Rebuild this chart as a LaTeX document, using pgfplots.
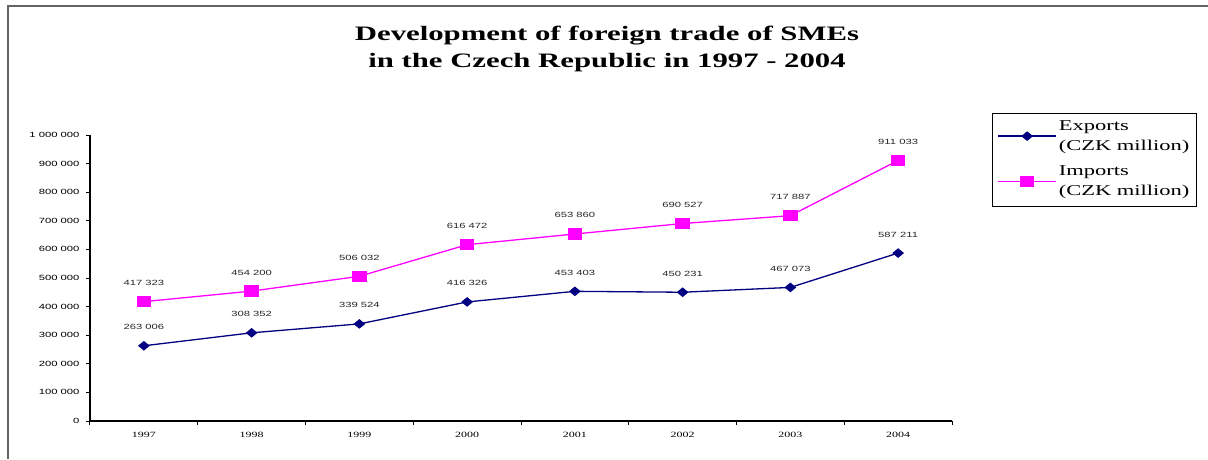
\documentclass[border=0pt]{standalone}
\usepackage{pgfplots}
\pgfplotsset{compat=1.18}
\usepackage{fontspec}
\newfontfamily\serifS[FakeStretch=1.5]{Liberation Serif}
\newfontfamily\sansS[FakeStretch=1.5]{Liberation Sans}
\definecolor{expblue}{RGB}{0,0,128}
\definecolor{impmag}{RGB}{255,0,255}
\definecolor{framegray}{RGB}{100,100,100}

\begin{document}
\begin{tikzpicture}
\useasboundingbox (-90pt,-38pt) rectangle (1118pt,421pt);
\draw[framegray, line width=2.4pt] (-82pt,-38pt) -- (-82pt,415pt) -- (1118pt,415pt);
\node[font=\serifS\bfseries\fontsize{20.5}{27}\selectfont, anchor=base] at (517pt,381pt) {Development of foreign trade of SMEs};
\node[font=\serifS\bfseries\fontsize{20.5}{27}\selectfont, anchor=base] at (517pt,354pt) {in the Czech Republic in 1997 - 2004};

\begin{axis}[
  anchor=south west, at={(0pt,0pt)},
  scale only axis, width=862pt, height=286pt,
  xmin=-0.5, xmax=7.5, ymin=0, ymax=1000000,
  axis x line*=bottom, axis y line*=left,
  axis line style={line width=1.2pt, -},
  xtick={0,...,7},
  xticklabels={1997,1998,1999,2000,2001,2002,2003,2004},
  major x tick style={draw=none},
  minor xtick={-0.5,0.5,...,7.5},
  ytick={0,100000,...,1000000},
  yticklabels={0,100 000,200 000,300 000,400 000,500 000,600 000,700 000,800 000,900 000,1 000 000},
  scaled y ticks=false,
  tick align=outside, major tick length=4pt, minor tick length=4pt,
  tick style={black, line width=1pt},
  xticklabel style={font=\serifS\fontsize{8}{10}\selectfont, yshift=-4pt},
  yticklabel style={font=\sansS\fontsize{7.5}{9}\selectfont, xshift=-3pt},
  clip=false,
  every node near coord/.append style={font=\sansS\fontsize{7.5}{9}\selectfont, black!85, anchor=base, yshift=16pt, inner sep=0pt},
  legend style={at={(1.0464,1.077)}, anchor=north west, draw=black, line width=1pt,
    font=\serifS\fontsize{15}{20}\selectfont, cells={align=left, anchor=west},
    row sep=8pt, inner xsep=5pt, inner ysep=5pt},
  legend image code/.code={\node[inner sep=0pt, minimum size=0pt, draw=none, fill=none] at (0pt,-19pt) {};
    \node[inner sep=0pt, minimum size=0pt, draw=none, fill=none] at (0pt,6pt) {};
    \draw[mark repeat=2,mark phase=2,#1] plot coordinates {(0pt,0pt) (29pt,0pt) (58pt,0pt)};},
]
\addplot[expblue, line width=1.3pt, mark=diamond*, mark size=5pt,
  mark options={xscale=1.3, yscale=0.8},
  nodes near coords, point meta=explicit symbolic] coordinates {
  (0,263006) [263 006]
  (1,308352) [308 352]
  (2,339524) [339 524]
  (3,416326) [416 326]
  (4,453403) [453 403]
  (5,450231) [450 231]
  (6,467073) [467 073]
  (7,587211) [587 211]
};
\addlegendentry{Exports\\(CZK million)}
\addplot[impmag, line width=1.3pt, mark=square*, mark size=5pt,
  mark options={xscale=1.3},
  nodes near coords, point meta=explicit symbolic] coordinates {
  (0,417323) [417 323]
  (1,454200) [454 200]
  (2,506032) [506 032]
  (3,616472) [616 472]
  (4,653860) [653 860]
  (5,690527) [690 527]
  (6,717887) [717 887]
  (7,911033) [911 033]
};
\addlegendentry{Imports\\(CZK million)}
\end{axis}
\end{tikzpicture}
\end{document}
